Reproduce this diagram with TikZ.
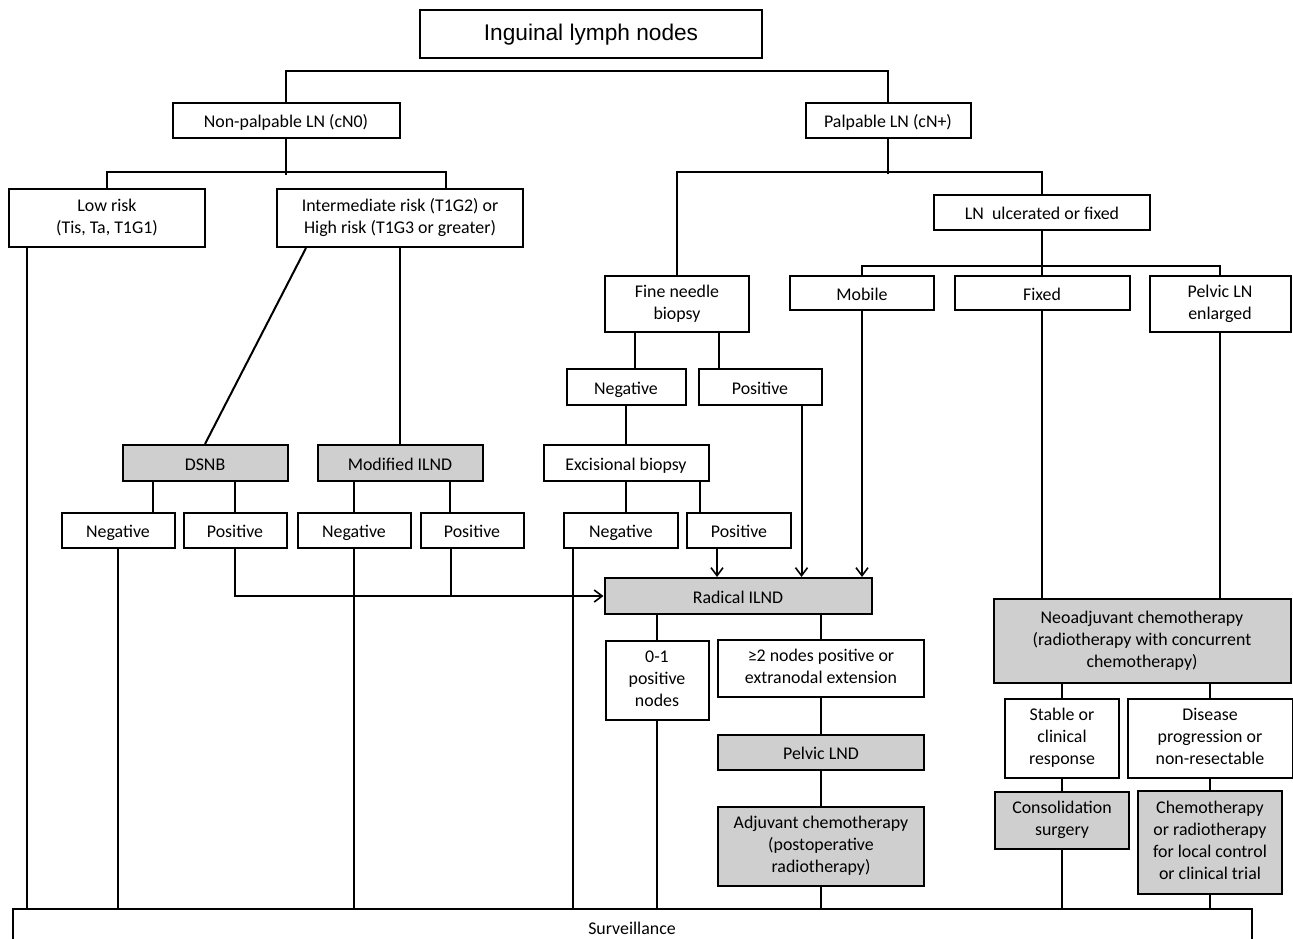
\documentclass[tikz,border=0pt]{standalone}
\usepackage{fontspec}
\setmainfont{Carlito}
\newfontfamily\titlefont{Liberation Sans}
\usepackage{tikz}
\usetikzlibrary{positioning}
\usetikzlibrary{arrows.meta}
\usetikzlibrary{calc}
\newcommand\boxstrut{\rule[-2.4pt]{0pt}{15.4pt}}
\tikzstyle{box}=[rectangle,draw,line width=1.5pt,align=center,inner sep=0pt,font=\fontsize{13.4}{16.5}\selectfont,execute at begin node=\boxstrut,execute at end node=\boxstrut]
\tikzstyle{gbox}=[box,fill=black!19]
\tikzstyle{link}=[draw,line width=1.5pt]
\tikzstyle{arr}=[link,-{Straight Barb[length=6pt,width=9pt,line width=1.2pt]}]

\begin{document}
\begin{tikzpicture}[x=0.75pt,y=-0.75pt]
    \useasboundingbox (0,0) rectangle (1293,939);
    % Title
    \node[box,minimum width=342*0.75pt,minimum height=48*0.75pt,font=\titlefont\fontsize{17}{20}\selectfont] (top) at (591,34) {Inguinal lymph nodes};

    % White boxes
    \foreach \pos/\w/\h/\name/\txt in {{(286,120)/227/35/nonpal/Non-palpable LN (cN0)},
    {(888,120)/165/35/palp/Palpable LN (cN+)},
    {(107,218)/196/58/lowrisk/{Low risk\\(Tis, Ta, T1G1)}},
    {(400,218)/246/58/interm/{Intermediate risk (T1G2) or\\High risk (T1G3 or greater)}},
    {(1042,212)/216/35/ulcer/LN\ \ ulcerated or fixed},
    {(677,304)/144/56/fnb/Fine needle\\biopsy},
    {(862,293)/144/34/mobile/Mobile},
    {(1042,293)/175/34/fixed/Fixed},
    {(1220,304)/141/56/pelvicen/Pelvic LN\\enlarged},
    {(626,387)/119/36/fnbneg/Negative},
    {(760,387)/123/36/fnbpos/Positive},
    {(626,463)/165/36/excis/Excisional biopsy},
    {(118,530)/113/35/dneg/Negative},
    {(235,530)/103/35/dpos/Positive},
    {(354,530)/113/35/mneg/Negative},
    {(472,530)/103/35/mpos/Positive},
    {(621,530)/114/35/eneg/Negative},
    {(739,530)/104/35/epos/Positive},
    {(657,680)/103/79/few/0-1\\positive\\nodes},
    {(821,668)/206/57/many/≥2 nodes positive or\\extranodal extension},
    {(1062,738)/114/79/stable/Stable or\\clinical\\response},
    {(1210,738)/165/79/disease/Disease\\progression or\\non-resectable},
    {(632,927)/1239/36/surv/Surveillance}}
        \node[box,minimum width=\w*0.75pt,minimum height=\h*0.75pt] (\name) at \pos {\txt};

    % Grey boxes (treatments)
    \foreach \pos/\w/\h/\name/\txt in {{(205,463)/165/36/dsnb/DSNB},
    {(400,463)/165/36/milnd/Modified ILND},
    {(738,596)/267/36/radical/Radical ILND},
    {(821,752)/206/35/pelvlnd/Pelvic LND},
    {(821,846)/206/79/adjuv/Adjuvant chemotherapy\\(postoperative\\radiotherapy)},
    {(1142,641)/297/84/neoadj/Neoadjuvant chemotherapy\\(radiotherapy with concurrent\\chemotherapy)},
    {(1062,820)/134/57/consol/Consolidation\\surgery},
    {(1210,842)/144/103/chemo/Chemotherapy\\or radiotherapy\\for local control\\or clinical trial}}
        \node[gbox,minimum width=\w*0.75pt,minimum height=\h*0.75pt] (\name) at \pos {\txt};

    % Tree at the top
    \path[link] (nonpal.north) -- ++(0,-31) -| (palp.north);
    \path[link] (nonpal.south) -- ++(0,36);
    \path[link] (lowrisk.north) -- ++(0,-16) -| ($(interm.north)+(46,0)$);
    \path[link] (palp.south) -- ++(0,35);
    \path[link] (fnb.north) -- ++(0,-103) -| (ulcer.north);
    \path[link] (ulcer.south) -- (fixed.north);
    \path[link] (mobile.north) -- ++(0,-9) -| (pelvicen.north);

    % Non-palpable branch
    \path[link] ($(interm.south west)+(30,0)$) -- (dsnb.north);
    \path[link] (interm.south) -- (milnd.north);
    \path[link] ($(dsnb.south west)+(31,0)$) coordinate (dn) -- (dn |- dneg.north);
    \path[link] (dpos.north) -- (dpos.north |- dsnb.south);
    \path[link] (mneg.north) -- (mneg.north |- milnd.south);
    \path[link] ($(milnd.south east)+(-34,0)$) coordinate (mp) -- (mp |- mpos.north);
    \path[arr] (dpos.south) |- (radical.west);
    \path[link] ($(mpos.south west)+(31,0)$) coordinate (mq) -- (mq |- radical.west);

    % Palpable branch
    \path[link] ($(fnb.south west)+(31,0)$) coordinate (fa) -- (fa |- fnbneg.north);
    \path[link] ($(fnb.south east)+(-31,0)$) coordinate (fb) -- (fb |- fnbpos.north);
    \path[link] (fnbneg) -- (excis);
    \path[link] (excis.south) -- (excis.south |- eneg.north);
    \path[link] ($(excis.south east)+(-10,0)$) coordinate (eb) -- (eb |- epos.north);
    \path[arr] ($(epos.south west)+(31,0)$) coordinate (ep) -- (ep |- radical.north);
    \path[arr] ($(fnbpos.south east)+(-21,0)$) coordinate (fp) -- (fp |- radical.north);
    \path[arr] (mobile.south) -- (mobile.south |- radical.north);
    \path[link] (few.north |- radical.south) -- (few.north);
    \path[link] (many.north |- radical.south) -- (many.north);
    \path[link] (many) -- (pelvlnd) -- (adjuv);
    \path[link] (fixed.south) -- (fixed.south |- neoadj.north);
    \path[link] (pelvicen.south) -- (pelvicen.south |- neoadj.north);
    \path[link] (stable.north |- neoadj.south) -- (stable.north);
    \path[link] (disease.north |- neoadj.south) -- (disease.north);
    \path[link] (stable) -- (consol);
    \path[link] (disease) -- (chemo);

    % Down to surveillance
    \path[link] ($(lowrisk.south west)+(19,0)$) coordinate (lr) -- (lr |- surv.north);
    \path[link] ($(eneg.south west)+(10,0)$) coordinate (en) -- (en |- surv.north);
    \foreach \src in {dneg,mneg,few,adjuv,consol,chemo}
        \path[link] (\src.south) -- (\src.south |- surv.north);
\end{tikzpicture}
\end{document}
